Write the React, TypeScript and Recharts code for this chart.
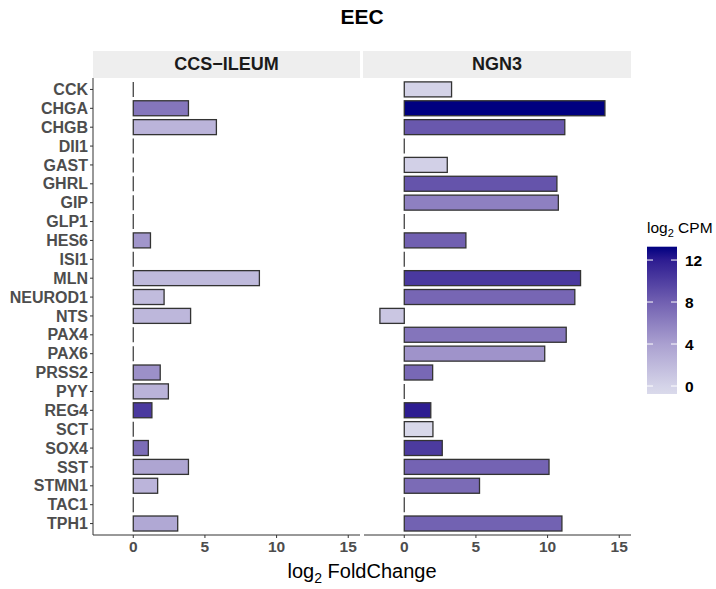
import { BarChart, Bar, XAxis, YAxis, Cell } from 'recharts'

const genes = [
  'CCK', 'CHGA', 'CHGB', 'DII1', 'GAST', 'GHRL', 'GIP', 'GLP1', 'HES6', 'ISI1', 'MLN', 'NEUROD1',
  'NTS', 'PAX4', 'PAX6', 'PRSS2', 'PYY', 'REG4', 'SCT', 'SOX4', 'SST', 'STMN1', 'TAC1', 'TPH1',
]

// CCS-ILEUM
const ileumFoldChange = [0, 3.85, 5.8, 0, 0, 0, 0, 0, 1.2, 0, 8.8, 2.15, 4.0, 0, 0, 1.88, 2.45, 1.3, 0, 1.05, 3.85, 1.7, 0, 3.1]
const ileumCpm = [0, 6.6, 2.4, 0, 0, 0, 0, 0, 4.6, 0, 2.0, 1.8, 2.2, 0, 0, 5.0, 2.5, 10.3, 0, 7.2, 3.6, 2.4, 0, 3.4]

// NGN3
const ngn3FoldChange = [3.3, 14.0, 11.2, 0, 3.0, 10.65, 10.75, 0, 4.3, 0, 12.3, 11.9, -1.7, 11.3, 9.8, 1.98, 0, 1.85, 2.0, 2.65, 10.1, 5.25, 0, 11.0]
const ngn3Cpm = [0, 13.27, 8.5, 0, 0.2, 8.7, 6.0, 0, 8.0, 0, 10.3, 7.6, 1.0, 6.7, 4.8, 7.5, 0, 12.0, -0.5, 10.2, 7.8, 7.3, 0, 7.9]

const xTicks = [0, 5, 10, 15]
const cpmTicks = [0, 4, 8, 12]
const cpmStops = [-0.76, 0, 4, 8, 12, 13.27]
const stopColors = ['#dadaeb', '#d4d3e8', '#aaa0d0', '#7160b1', '#2d1c91', '#000080']

const FONT = '"Liberation Sans", Arial, sans-serif'
const X_DOMAIN: [number, number] = [-2.81, 15.82]

function hexToRgb(h: string) {
  const n = parseInt(h.slice(1), 16)
  return [(n >> 16) & 255, (n >> 8) & 255, n & 255]
}

function cpmColor(v: number) {
  if (v <= cpmStops[0]) return stopColors[0]
  for (let i = 1; i < cpmStops.length; i++) {
    if (v <= cpmStops[i]) {
      const t = (v - cpmStops[i - 1]) / (cpmStops[i] - cpmStops[i - 1])
      const a = hexToRgb(stopColors[i - 1])
      const b = hexToRgb(stopColors[i])
      const c = a.map((x, k) => Math.round(x + (b[k] - x) * t))
      return `rgb(${c[0]},${c[1]},${c[2]})`
    }
  }
  return stopColors[stopColors.length - 1]
}

function BarShape(props: any) {
  const { x, y, width, height, fill } = props
  const w = Math.abs(width || 0)
  const left = width < 0 ? x + width : x
  if (w < 0.5) {
    return <line x1={x} x2={x} y1={y} y2={y + height} stroke="#444" strokeWidth={1.3} />
  }
  return <rect x={left} y={y} width={w} height={height} fill={fill} stroke="#333" strokeWidth={1.3} />
}

const tickStyle = { fill: '#4d4d4d', fontSize: 15.5, fontWeight: 'bold', fontFamily: FONT }

function Panel({ fc, cpm, showY }: { fc: number[]; cpm: number[]; showY: boolean }) {
  const data = genes.map((gene, i) => ({ gene, fc: fc[i], cpm: cpm[i] }))
  return (
    <BarChart
      width={showY ? 363 : 274}
      height={565}
      data={data}
      layout="vertical"
      barCategoryGap="10%"
      margin={{ top: 78, right: showY ? 3 : 4, bottom: 0, left: showY ? 0 : 3 }}
    >
      <XAxis
        type="number"
        domain={X_DOMAIN}
        allowDataOverflow
        ticks={xTicks}
        tickSize={3}
        tickMargin={3}
        height={30}
        tick={tickStyle}
        axisLine={{ stroke: '#333' }}
        tickLine={{ stroke: '#333' }}
      />
      <YAxis
        type="category"
        dataKey="gene"
        hide={!showY}
        width={showY ? 93 : 0}
        interval={0}
        tickSize={3}
        padding={{ top: 2, bottom: 2 }}
        tick={{ ...tickStyle, fontSize: 16 }}
        axisLine={{ stroke: '#333' }}
        tickLine={{ stroke: '#333' }}
      />
      <Bar dataKey="fc" isAnimationActive={false} shape={BarShape}>
        {data.map((d, i) => (
          <Cell key={`cell-${i}`} fill={cpmColor(d.cpm)} />
        ))}
      </Bar>
    </BarChart>
  )
}

function ColorLegend() {
  const top = 246.7
  const bottom = 394
  const lo = cpmStops[0]
  const hi = cpmStops[cpmStops.length - 1]
  const yOf = (v: number) => bottom - ((v - lo) / (hi - lo)) * (bottom - top)
  return (
    <svg width={86} height={200} style={{ position: 'absolute', left: 630, top: 210 }}>
      <defs>
        <linearGradient id="cpmGrad" x1="0" y1="1" x2="0" y2="0">
          {cpmStops.map((s, i) => (
            <stop key={i} offset={(s - lo) / (hi - lo)} stopColor={stopColors[i]} />
          ))}
        </linearGradient>
      </defs>
      <text x={17} y={23} fontFamily={FONT} fontSize={15.5} fill="#000">
        log<tspan fontSize={11} dy={4}>2</tspan>
        <tspan dy={-4}> CPM</tspan>
      </text>
      <rect x={17} y={top - 210} width={30} height={bottom - top} fill="url(#cpmGrad)" />
      {cpmTicks.map((t) => (
        <g key={t}>
          <line x1={17} x2={23} y1={yOf(t) - 210} y2={yOf(t) - 210} stroke="#fff" strokeWidth={1} />
          <line x1={41} x2={47} y1={yOf(t) - 210} y2={yOf(t) - 210} stroke="#fff" strokeWidth={1} />
          <text x={55} y={yOf(t) - 210 + 5.5} fontFamily={FONT} fontSize={15.5} fontWeight="bold" fill="#000">
            {t}
          </text>
        </g>
      ))}
    </svg>
  )
}

const stripStyle = {
  position: 'absolute' as const,
  top: 51,
  height: 27,
  background: '#eeeeee',
  display: 'flex',
  alignItems: 'center',
  justifyContent: 'center',
  fontFamily: FONT,
  fontWeight: 'bold',
  fontSize: 18,
  color: '#1a1a1a',
}

export default function App() {
  return (
    <div style={{ position: 'absolute', left: 0, top: 0, width: 716, height: 589, background: '#fff' }}>
      <div
        style={{
          position: 'absolute', left: 93, width: 538, top: 5, textAlign: 'center',
          fontFamily: FONT, fontWeight: 'bold', fontSize: 21, color: '#000',
        }}
      >
        EEC
      </div>
      <div style={{ ...stripStyle, left: 93, width: 267 }}>CCS−ILEUM</div>
      <div style={{ ...stripStyle, left: 363, width: 268 }}>NGN3</div>
      <div style={{ position: 'absolute', left: 0, top: 0 }}>
        <Panel fc={ileumFoldChange} cpm={ileumCpm} showY />
      </div>
      <div style={{ position: 'absolute', left: 361, top: 0 }}>
        <Panel fc={ngn3FoldChange} cpm={ngn3Cpm} showY={false} />
      </div>
      <div
        style={{
          position: 'absolute', left: 93, width: 538, top: 561, textAlign: 'center',
          fontFamily: FONT, fontSize: 20, color: '#000', lineHeight: '20px',
        }}
      >
        log<sub style={{ fontSize: 14 }}>2</sub> FoldChange
      </div>
      <ColorLegend />
    </div>
  )
}
